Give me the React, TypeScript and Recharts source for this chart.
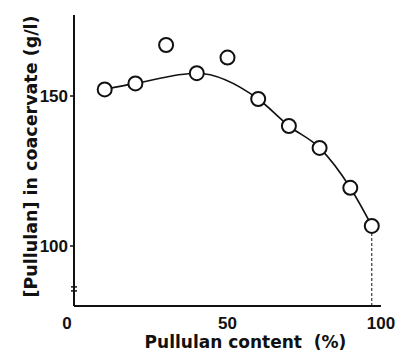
import { ComposedChart, Line, Scatter, XAxis, YAxis, ReferenceLine, ReferenceDot } from 'recharts'

// Pullulan content (%) of the mixture
const contentPct = [10, 20, 30, 40, 50, 60, 70, 80, 90, 97]
// [Pullulan] in coacervate (g/l)
const pullulanGL = [152.2, 154.2, 167, 157.6, 162.8, 149, 140, 132.7, 119.4, 106.7]
// points that the drawn curve passes through (the two high ones are off it)
const onCurve = [true, true, false, true, false, true, true, true, true, true]

const xTicks = [0, 50, 100]
const yTicks = [100, 150]

const points = contentPct.map((x, i) => ({ x, y: pullulanGL[i] }))
const curve = points.filter((_, i) => onCurve[i])
const last = points[points.length - 1]

const TICK_FONT = '"Liberation Sans", Arial, sans-serif'
const LABEL_FONT = '"DejaVu Sans", sans-serif'
const INK = '#111'

const OpenCircle = (props: any) => (
  <circle cx={props.cx} cy={props.cy} r={7} fill="#fff" stroke={INK} strokeWidth={2} />
)

const AxisBreak = (props: any) => (
  <g stroke={INK} strokeWidth={1.5}>
    <line x1={props.cx - 3} x2={props.cx + 3} y1={props.cy - 2} y2={props.cy - 2} />
    <line x1={props.cx - 3} x2={props.cx + 3} y1={props.cy + 2} y2={props.cy + 2} />
  </g>
)

const XTick = (props: any) => {
  const { x, y, payload } = props
  const shift = payload.value === 0 ? -7 : 0
  return (
    <text x={x + shift} y={y + 15} textAnchor="middle" fontFamily={TICK_FONT} fontWeight="bold" fontSize={17} fill={INK}>
      {payload.value}
    </text>
  )
}

const XLabel = (props: any) => {
  const { x, y, width } = props.viewBox
  return (
    <text x={x + width / 2 + 18} y={y + 42} textAnchor="middle" style={{ whiteSpace: 'pre' }}
      fontFamily={LABEL_FONT} fontWeight="bold" fontSize={17} fill={INK}>
      {'Pullulan content  (%)'}
    </text>
  )
}

const YLabel = (props: any) => {
  const { x, y, height } = props.viewBox
  const cx = x + 31
  const cy = y + height / 2 - 4
  return (
    <text x={cx} y={cy} transform={`rotate(-90, ${cx}, ${cy})`} textAnchor="middle" dominantBaseline="central"
      fontFamily={LABEL_FONT} fontWeight="bold" fontSize={17.5} fill={INK}>
      [Pullulan] in coacervate (g/l)
    </text>
  )
}

export default function App() {
  return (
    <div style={{ position: 'absolute', left: 0, top: 0, background: '#fff' }}>
      <ComposedChart width={401} height={357} margin={{ top: 15, right: 20, bottom: 21, left: 0 }}>
        <XAxis
          dataKey="x" type="number" domain={[0, 100]} ticks={xTicks}
          axisLine={{ stroke: INK, strokeWidth: 2 }} tickLine={false}
          height={30} tick={<XTick />}
          label={<XLabel />}
        />
        <YAxis
          dataKey="y" type="number" domain={[80, 177]} ticks={yTicks} width={74}
          axisLine={{ stroke: INK, strokeWidth: 2 }} tickLine={{ stroke: INK, strokeWidth: 1.5 }} tickSize={4}
          tick={{ fontFamily: TICK_FONT, fontWeight: 'bold', fontSize: 17, fill: INK }}
          label={<YLabel />}
        />
        <ReferenceLine segment={[{ x: last.x, y: 80 }, { x: last.x, y: last.y }]} stroke={INK} strokeWidth={1} strokeDasharray="3 2" />
        <ReferenceDot x={0} y={85.7} shape={<AxisBreak />} />
        <Line data={curve} dataKey="y" type="monotone" stroke={INK} strokeWidth={1.6} dot={false} isAnimationActive={false} />
        <Scatter data={points} dataKey="y" shape={<OpenCircle />} isAnimationActive={false} />
      </ComposedChart>
    </div>
  )
}
